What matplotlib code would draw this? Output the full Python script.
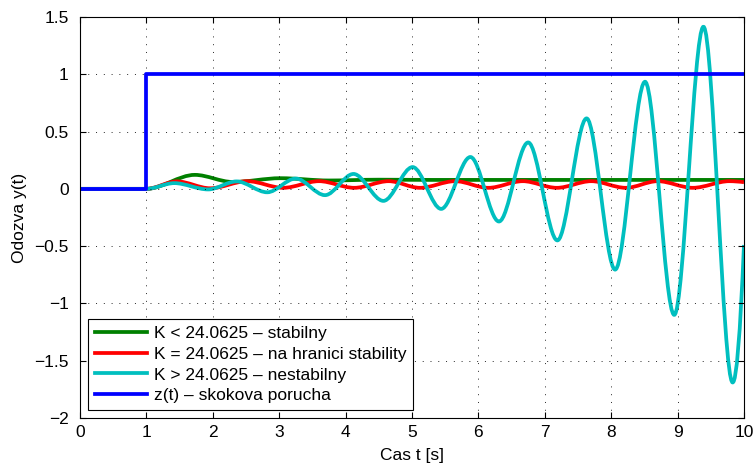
import numpy as np
import matplotlib.pyplot as plt
from matplotlib.path import Path
from matplotlib.patches import PathPatch
from matplotlib.lines import Line2D

plt.rcParams['font.family'] = ['Liberation Sans', 'DejaVu Sans']

# z(t) - step disturbance
t_step = [0, 1.0, 1.0, 10.0]
y_step = [0, 0, 1, 1]

# the responses are given by their turning points,
# drawn as smooth bezier segments between them
# K < 24.0625 (stable)
t_stab = [0, 1.0, 1.73, 2.3, 3.02, 3.75, 4.5, 5.3, 10.0]
y_stab = [0, 0, 0.122, 0.06, 0.093, 0.073, 0.08, 0.078, 0.078]

# K = 24.0625 (marginal)
t_marg = [0, 1.0, 1.46, 1.96, 2.52, 3.06, 3.6, 4.13, 4.65, 5.12, 5.65, 6.15,
          6.67, 7.18, 7.7, 8.22, 8.7, 9.23, 9.78, 10.0]
y_marg = [0, 0, 0.065, 0.005, 0.067, 0.009, 0.067, 0.009, 0.067, 0.009, 0.067, 0.009,
          0.067, 0.009, 0.067, 0.009, 0.067, 0.009, 0.067, 0.058]

# K > 24.0625 (unstable)
t_nest = [0, 1.0, 1.42, 1.93, 2.36, 2.82, 3.25, 3.69, 4.12, 4.57, 5.01, 5.44,
          5.88, 6.31, 6.75, 7.19, 7.63, 8.06, 8.51, 8.95, 9.39, 9.83, 10.0]
y_nest = [0, 0, 0.05, -0.005, 0.065, -0.03, 0.09, -0.055, 0.13, -0.105, 0.19, -0.175,
          0.278, -0.285, 0.405, -0.45, 0.615, -0.705, 0.935, -1.10, 1.415, -1.69, -0.49]

labels = ['K < 24.0625 \u2013 stabilny',
          'K = 24.0625 \u2013 na hranici stability',
          'K > 24.0625 \u2013 nestabilny',
          'z(t) \u2013 skokova porucha']
colors = ['#008000', '#ff0000', '#00bfbf', '#0000ff']


def smooth_path(t, y, cut_end=False):
    verts = [(t[0], y[0])]
    codes = [Path.MOVETO]
    n = len(t) - 1
    for i in range(n):
        t1, y1, t2, y2 = t[i], y[i], t[i + 1], y[i + 1]
        d = t2 - t1
        if cut_end and i == n - 1:
            # last piece ends mid swing at the axis edge
            verts += [(t1 + d / 2, y1), (t2, y2)]
            codes += [Path.CURVE3] * 2
        else:
            verts += [(t1 + d / 3, y1), (t2 - d / 3, y2), (t2, y2)]
            codes += [Path.CURVE4] * 3
    return Path(verts, codes)


fig = plt.figure(figsize=(7.53, 4.63), dpi=100)
ax = fig.add_axes([0.1062, 0.0972, 0.8818, 0.8661])

lw = 2.7
series = [(t_stab, y_stab, False), (t_marg, y_marg, True), (t_nest, y_nest, True)]
for (t, y, cut), c in zip(series, colors):
    ax.add_patch(PathPatch(smooth_path(t, y, cut), fill=False, edgecolor=c, lw=lw,
                           joinstyle='round', capstyle='butt'))
ax.plot(t_step, y_step, color=colors[3], lw=lw)

ax.set_xlim(0, 10)
ax.set_ylim(-2, 1.5)
ax.set_xticks(np.arange(0, 11, 1))
ax.set_yticks(np.arange(-2, 1.51, 0.5))
ax.set_yticklabels(['\u22122', '\u22121.5', '\u22121', '\u22120.5', '0', '0.5', '1', '1.5'])
ax.grid(True, linestyle=(0, (1, 7)), color='black', linewidth=0.7, alpha=0.85)
ax.tick_params(direction='in', top=True, right=True, labelsize=12.5, length=4)
ax.tick_params(axis='x', pad=5)
ax.tick_params(axis='y', pad=8)
for s in ax.spines.values():
    s.set_linewidth(0.8)

ax.set_xlabel('Cas t [s]', fontsize=12.5, labelpad=6)
ax.set_ylabel('Odozva y(t)', fontsize=12.5, labelpad=5)

handles = [Line2D([], [], color=c, lw=lw) for c in colors]
leg = ax.legend(handles, labels, loc='lower left', fontsize=12.5, handlelength=3.0,
                fancybox=False, framealpha=1, edgecolor='black', borderaxespad=0.45,
                labelspacing=0.32, handletextpad=0.4, borderpad=0.4)
leg.get_frame().set_linewidth(0.8)

fig.savefig('out.png', dpi=100)
